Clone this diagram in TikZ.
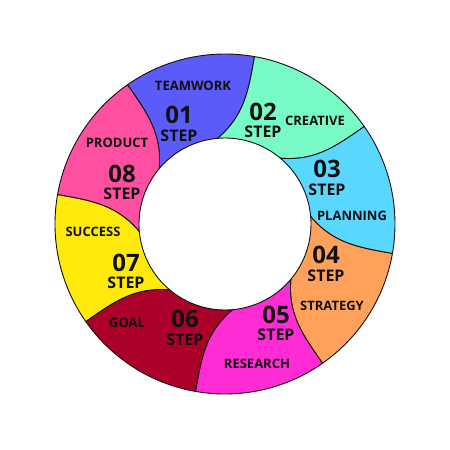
\documentclass[tikz,border=0pt]{standalone}
\usepackage{fontspec}
\setmainfont{Open Sans}
\definecolor{cA}{HTML}{5B5BF9}
\definecolor{cB}{HTML}{78FBC5}
\definecolor{cC}{HTML}{5AD7FF}
\definecolor{cD}{HTML}{FFA15A}
\definecolor{cE}{HTML}{FF2BD4}
\definecolor{cF}{HTML}{AB0029}
\definecolor{cG}{HTML}{FFEA0C}
\definecolor{cH}{HTML}{FF4FA0}
\definecolor{ink}{HTML}{111111}
\begin{document}
\begin{tikzpicture}[x=1pt,y=1pt,
  seg/.style={draw=ink, line width=0.9pt, line join=round},
  num/.style={font=\fontsize{24}{24}\selectfont\bfseries, text=ink, inner sep=0},
  steplbl/.style={font=\fontsize{16}{16}\selectfont\bfseries, text=ink, inner sep=0},
  lbl/.style={font=\fontsize{13}{13}\selectfont\bfseries, text=ink, inner sep=0}]
\useasboundingbox[fill=white] (-225,-226) rectangle (225,224);
\foreach \j/\col in {0/cA,1/cB,2/cC,3/cD,4/cE,5/cF,6/cG,7/cH}{
  \pgfmathsetmacro\Lo{125-45*\j}
  \pgfmathsetmacro\Li{140-45*\j}
  \pgfmathsetmacro\Ao{80-45*\j}
  \pgfmathsetmacro\Ai{95-45*\j}
  \pgfmathsetmacro\oA{\Ao+180}
  \pgfmathsetmacro\iA{\Ai-55}
  \pgfmathsetmacro\oL{\Li-55}
  \pgfmathsetmacro\iL{\Lo+180}
  \path[seg, fill=\col] (\Lo:170) arc[start angle=\Lo, end angle=\Ao, radius=170]
    to[out=\oA, in=\iA] (\Ai:86)
    arc[start angle=\Ai, end angle=\Li, radius=86]
    to[out=\oL, in=\iL] (\Lo:170) -- cycle;
}
% labels
\node[lbl] (t1) at (-32,138) {TEAMWORK};
\node[num] (n1) at (-46,109) {01};
\node[steplbl] (s1) at (-46,88) {STEP};
\node[num] (n2) at (38,112) {02};
\node[steplbl] (s2) at (38,92) {STEP};
\node[lbl] (t2) at (90,103) {CREATIVE};
\node[num] (n3) at (102,55) {03};
\node[steplbl] (s3) at (102,34) {STEP};
\node[lbl] (t3) at (127,8) {PLANNING};
\node[num] (n4) at (101,-31) {04};
\node[steplbl] (s4) at (101,-52) {STEP};
\node[lbl] (t4) at (107,-82) {STRATEGY};
\node[num] (n5) at (51,-91) {05};
\node[steplbl] (s5) at (51,-111) {STEP};
\node[lbl] (t5) at (32,-140) {RESEARCH};
\node[num] (n6) at (-40,-95) {06};
\node[steplbl] (s6) at (-40,-116) {STEP};
\node[lbl] (t6) at (-98,-99) {GOAL};
\node[num] (n7) at (-99,-39) {07};
\node[steplbl] (s7) at (-99,-59) {STEP};
\node[lbl] (t7) at (-132,-8) {SUCCESS};
\node[num] (n8) at (-103,50) {08};
\node[steplbl] (s8) at (-103,30) {STEP};
\node[lbl] (t8) at (-108,81) {PRODUCT};
\end{tikzpicture}
\end{document}
